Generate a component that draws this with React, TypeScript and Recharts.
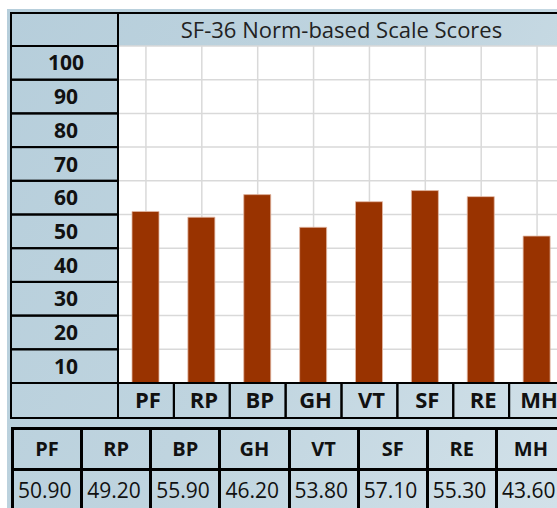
import React from "react";
import { BarChart, Bar, XAxis, YAxis, CartesianGrid } from "recharts";

const title = "SF-36 Norm-based Scale Scores";
const categories = ["PF", "RP", "BP", "GH", "VT", "SF", "RE", "MH"];
const scores = [50.9, 49.2, 55.9, 46.2, 53.8, 57.1, 55.3, 43.6];
const scoreLabels = ["50.90", "49.20", "55.90", "46.20", "53.80", "57.10", "55.30", "43.60"];
const gridTicks = [0, 10, 20, 30, 40, 50, 60, 70, 80, 90, 100];
const scaleLabels = ["10", "20", "30", "40", "50", "60", "70", "80", "90", "100"];

const data = categories.map((c, i) => ({ cat: c, score: scores[i] }));

const FONT = "'Open Sans', 'DejaVu Sans', sans-serif";
const ROW_H = 33.7;
const BAND = 447 / 8;
const PLOT_BOTTOM = 383;
const CAT_H = 35;
const COL_W = 553 / 8;

const YCell = (props: any) => {
  const { y, index } = props;
  const label = scaleLabels[index];
  if (label === undefined) return <g />;
  return (
    <g>
      <rect x={11} y={y - ROW_H} width={107} height={ROW_H} fill="none" stroke="#000" strokeWidth={2} />
      <text x={66} y={y - ROW_H / 2} dy="0.36em" textAnchor="middle" fontFamily={FONT} fontWeight={700} fontSize={21} fill="#111">
        {label}
      </text>
    </g>
  );
};

const XCell = (props: any) => {
  const { x, payload } = props;
  return (
    <g>
      <rect x={x - BAND / 2} y={PLOT_BOTTOM} width={BAND} height={CAT_H} fill="none" stroke="#000" strokeWidth={2} />
      <text x={x + 2} y={PLOT_BOTTOM + CAT_H / 2} dy="0.36em" textAnchor="middle" fontFamily={FONT} fontWeight={700} fontSize={22} fill="#111">
        {payload.value}
      </text>
    </g>
  );
};

export default function App() {
  return (
    <div style={{ position: "absolute", left: 0, top: 0, width: 557, height: 508, overflow: "hidden", background: "#fff", fontFamily: FONT }}>
      <div
        style={{
          position: "absolute",
          left: 7,
          top: 9,
          right: 0,
          bottom: 0,
          background: "linear-gradient(120deg, #b6cedb 0%, #bfd4df 50%, #d2e1e9 100%)",
        }}
      />
      <div style={{ position: "absolute", left: 10, top: 12, width: 109, height: 35, border: "2px solid #000", boxSizing: "border-box" }} />
      <div
        style={{
          position: "absolute",
          left: 118,
          top: 12,
          width: 447,
          height: 34,
          borderTop: "2px solid #000",
          boxSizing: "border-box",
          textAlign: "center",
          fontSize: 22,
          lineHeight: "31px",
          color: "#222",
        }}
      >
        {title}
      </div>
      <div style={{ position: "absolute", left: 10, top: PLOT_BOTTOM - 1, width: 109, height: CAT_H + 2, border: "2px solid #000", boxSizing: "border-box" }} />
      <div style={{ position: "absolute", left: 0, top: 0 }}>
        <BarChart width={565} height={PLOT_BOTTOM + CAT_H + 2} data={data} margin={{ top: 46, right: 0, bottom: 0, left: 0 }}>
          <CartesianGrid fill="#fff" stroke="#d9d9d9" strokeWidth={1.5} />
          <XAxis dataKey="cat" height={CAT_H + 2} interval={0} axisLine={false} tickLine={false} tick={<XCell />} />
          <YAxis width={118} domain={[0, 100]} ticks={gridTicks} interval={0} axisLine={false} tickLine={false} tick={<YCell />} />
          <Bar dataKey="score" barSize={27} fill="#993300" stroke="#e2b9a5" strokeWidth={0.8} isAnimationActive={false} />
        </BarChart>
      </div>
      <div style={{ position: "absolute", left: 11, top: 427, width: 560, height: 90 }}>
        {categories.map((c, i) => (
          <div
            key={"h" + c}
            style={{
              position: "absolute",
              left: i * COL_W,
              top: 0,
              width: COL_W + 3,
              height: 44,
              border: "3px solid #000",
              boxSizing: "border-box",
              textAlign: "center",
              fontWeight: 700,
              fontSize: 20,
              lineHeight: "38px",
              color: "#111",
            }}
          >
            {c}
          </div>
        ))}
        {scoreLabels.map((v, i) => (
          <div
            key={"v" + i}
            style={{
              position: "absolute",
              left: i * COL_W,
              top: 41,
              width: COL_W + 3,
              height: 44,
              border: "3px solid #000",
              boxSizing: "border-box",
              paddingLeft: 4,
              fontSize: 21,
              lineHeight: "38px",
              color: "#111",
            }}
          >
            {v}
          </div>
        ))}
      </div>
    </div>
  );
}
